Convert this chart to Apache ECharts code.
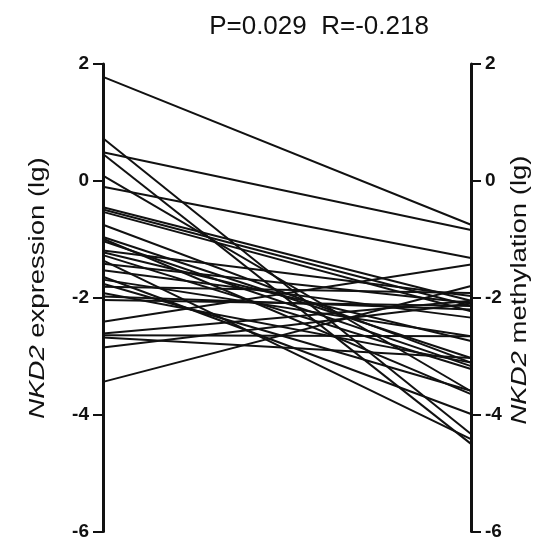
<!DOCTYPE html>
<html><head><meta charset="utf-8">
<script src="https://cdn.jsdelivr.net/npm/echarts@6/dist/echarts.min.js"></script>
<style>html,body{margin:0;padding:0;background:#fff}#c{width:557px;height:541px}</style>
</head><body><div id="c"></div>
<script>
const titleText = 'P=0.029  R=-0.218';
const leftAxisName = ['NKD2', ' expression (lg)'];
const rightAxisName = ['NKD2', ' methylation (lg)'];
const yTicks = [-6, -4, -2, 0, 2];
const leftValues  = [1.78, 0.73, 0.49, 0.46, 0.09, -0.10, -0.45, -0.49, -0.53, -0.75, -0.96, -0.99, -1.03, -1.19, -1.22, -1.27, -1.36, -1.42, -1.53, -1.64, -1.69, -1.76, -1.81, -1.92, -1.98, -2.04, -2.41, -2.61, -2.64, -2.68, -2.85, -3.44];
const rightValues = [-0.75, -4.33, -0.84, -4.50, -3.60, -1.32, -2.05, -2.14, -2.23, -3.11, -3.03, -3.65, -3.17, -1.97, -2.74, -3.22, -4.42, -2.09, -2.34, -3.99, -2.66, -3.59, -1.92, -3.11, -2.20, -2.14, -1.43, -2.05, -2.66, -3.03, -2.10, -1.80];

const chart = echarts.init(document.getElementById('c'));
const series = leftValues.map((l, i) => ({
  type: 'line', data: [l, rightValues[i]], symbol: 'none', silent: true,
  lineStyle: {color: '#111', width: 2}
}));
const axisCommon = {
  type: 'value', min: yTicks[0], max: yTicks[yTicks.length - 1], interval: 2,
  axisLine: {show: true, lineStyle: {color: '#111', width: 3}},
  axisTick: {show: true, length: 10, lineStyle: {color: '#111', width: 2}},
  axisLabel: {color: '#111', fontSize: 19, fontWeight: 'bold', fontFamily: 'Liberation Sans', margin: 14},
  splitLine: {show: false}
};
const nameStyle = (parts) => ({
  text: '{i|' + parts[0] + '}' + parts[1],
  font: '22px "Liberation Sans"', fill: '#111', align: 'center', verticalAlign: 'middle',
  rich: {i: {fontStyle: 'italic', fontSize: 22, fontFamily: 'Liberation Sans', fill: '#111'}}
});
chart.setOption({
  animation: false,
  title: {text: titleText, left: 314, top: 9, textAlign: 'center', textStyle: {fontSize: 26, fontWeight: 'normal', color: '#111', fontFamily: 'Liberation Sans'}},
  grid: {left: 103, right: 86, top: 64, bottom: 7},
  xAxis: {type: 'category', data: ['expression', 'methylation'], boundaryGap: false, show: false},
  yAxis: [
    Object.assign({}, axisCommon, {position: 'left'}),
    Object.assign({}, axisCommon, {position: 'right'})
  ],
  graphic: [
    {type: 'text', x: 38, y: 288, rotation: Math.PI / 2, scaleX: 1.25, silent: true, style: nameStyle(leftAxisName)},
    {type: 'text', x: 520, y: 290, rotation: Math.PI / 2, scaleX: 1.25, silent: true, style: nameStyle(rightAxisName)}
  ],
  series: series
});
</script></body></html>
